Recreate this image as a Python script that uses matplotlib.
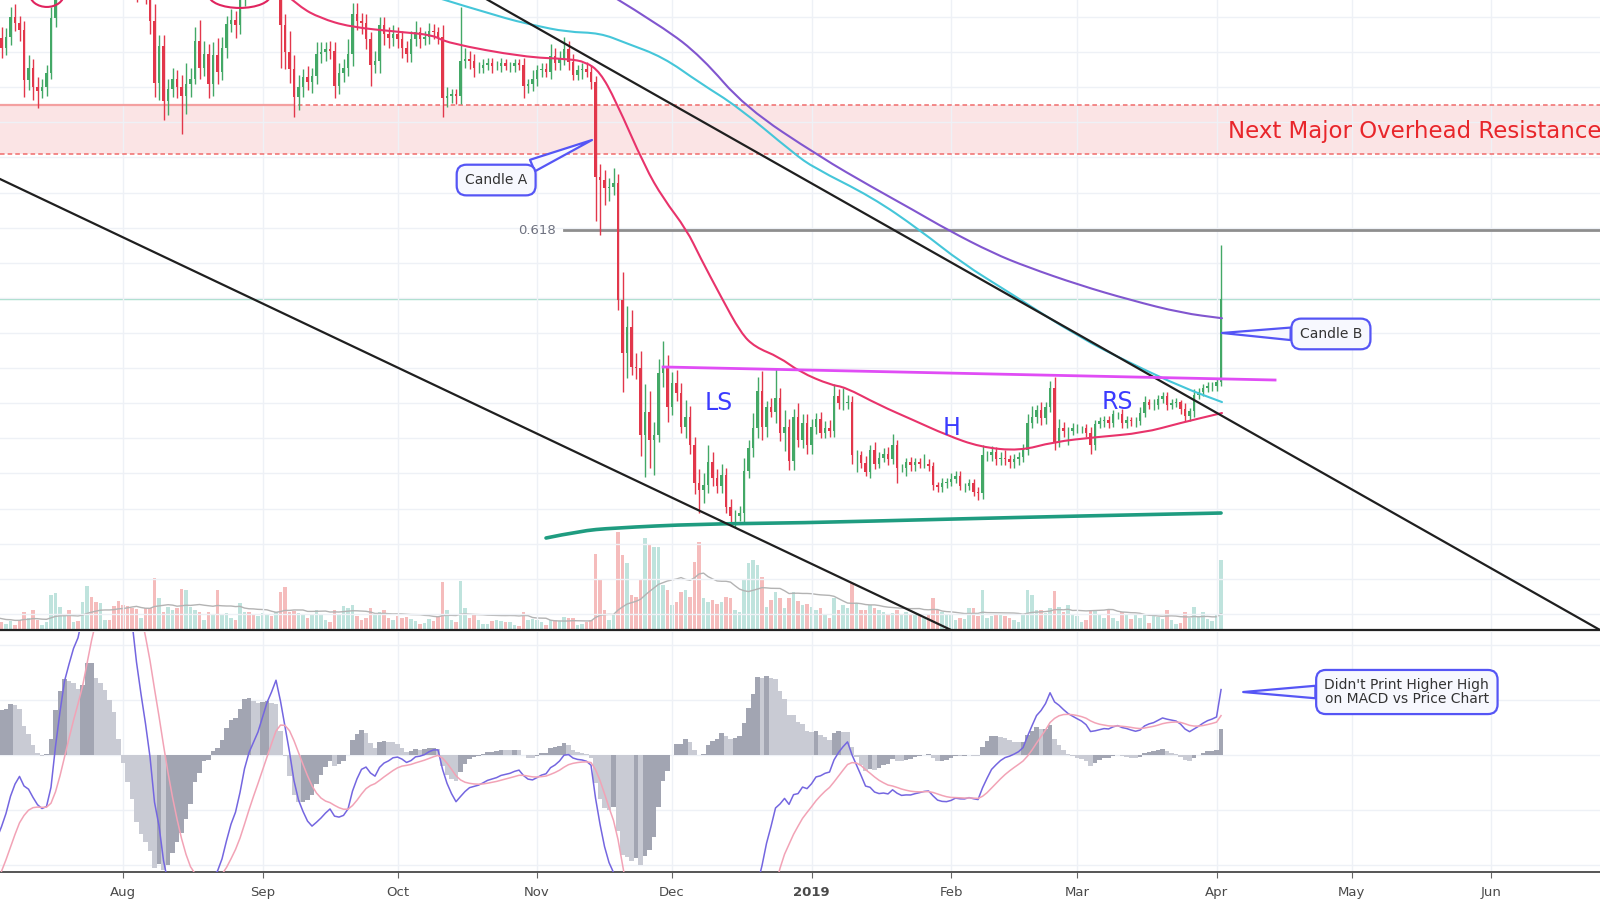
import numpy as np
import pandas as pd
import matplotlib
matplotlib.use("Agg")
import matplotlib.pyplot as plt
import matplotlib.dates as mdates
from matplotlib.patches import Ellipse, PathPatch
from matplotlib.path import Path

# ---------------- data (BTC/USD daily) ----------------
# closes; June is only there so the MACD has a warm-up
close_jun = [7530, 7640, 7720, 7500, 7630, 7650, 7680, 7620, 7490, 6770,
             6880, 6550, 6310, 6640, 6400, 6500, 6460, 6700, 6730, 6750,
             6720, 6060, 6140, 6150, 6250, 6090, 6160, 5870, 6200, 6390]
close_jul = [6350, 6610, 6510, 6600, 6530, 6610, 6750, 6710, 6660, 6300,
             6390, 6250, 6220, 6250, 6350, 6740, 7320, 7380, 7470, 7330,
             7410, 7400, 7720, 8400, 8170, 7930, 8190, 8230, 8210, 8170,
             7730]
close_aug = [7600, 7530, 7410, 7010, 7030, 6940, 6720, 6280, 6540, 6150,
             6240, 6310, 6250, 6190, 6270, 6310, 6580, 6390, 6490, 6270,
             6480, 6360, 6530, 6700, 6730, 6690, 6910, 7090, 7030, 6980,
             7030]
close_sep = [7190, 7270, 7260, 7360, 6690, 6500, 6380, 6180, 6250, 6320,
             6290, 6330, 6490, 6500, 6520, 6510, 6260, 6350, 6390, 6490,
             6770, 6720, 6710, 6590, 6410, 6440, 6690, 6630, 6600, 6630]
close_oct = [6590, 6530, 6490, 6590, 6640, 6590, 6610, 6650, 6640, 6610,
             6170, 6190, 6200, 6190, 6440, 6450, 6440, 6390, 6390, 6410,
             6420, 6400, 6400, 6420, 6400, 6400, 6420, 6410, 6260, 6270,
             6310]
close_nov = [6370, 6380, 6360, 6470, 6420, 6460, 6520, 6430, 6340, 6370,
             6380, 6360, 6290, 5610, 5590, 5530, 5540, 5570, 4735, 4360,
             4545, 4260, 4250, 3775, 3940, 3740, 3775, 4215, 4260, 3975]
close_dec = [4145, 4075, 3830, 3900, 3700, 3430, 3380, 3420, 3580, 3470,
             3410, 3490, 3260, 3200, 3200, 3220, 3520, 3680, 3820, 4090,
             3830, 3975, 3940, 4040, 3790, 3830, 3585, 3900, 3740, 3860,
             3700]
close_jan = [3830, 3890, 3790, 3820, 3800, 4050, 4000, 4000, 4010, 3630,
             3630, 3575, 3510, 3665, 3570, 3610, 3640, 3600, 3700, 3540,
             3540, 3580, 3560, 3580, 3570, 3570, 3550, 3420, 3400, 3435,
             3440]
close_feb = [3460, 3480, 3410, 3410, 3430, 3370, 3360, 3630, 3630, 3655,
             3600, 3610, 3600, 3580, 3600, 3620, 3670, 3860, 3900, 3950,
             3895, 3975, 4110, 3725, 3825, 3800, 3800, 3820]
close_mar = [3820, 3820, 3790, 3705, 3850, 3870, 3880, 3860, 3920, 3920,
             3860, 3880, 3870, 3875, 3930, 4010, 3990, 3990, 4030, 4050,
             3990, 4000, 4005, 3960, 3910, 3945, 4060, 4080, 4110, 4120,
             4120]
close_apr = [4150, 4745]

# wick lengths above / below the body, from Jul 1
up_wick = ([60, 120, 80, 70, 80, 60, 70, 90, 50, 60, 90, 60, 70, 60, 60, 80, 100, 120, 80, 100,
            70, 80, 150, 200, 180, 150, 120, 100, 80, 90, 160] +
           [100, 80, 90, 80, 90, 100, 140, 120, 80, 80, 70, 80, 60, 90, 150, 80, 100, 150, 90, 70,
            90, 120, 80, 60, 80, 60, 80, 100, 80, 60, 80] +
           [80, 80, 70, 80, 90, 80, 150, 100, 90, 60, 80, 60, 80, 70, 50, 60, 60, 70, 60, 100,
            80, 80, 60, 60, 50, 70, 60, 60, 50, 60] +
           [50, 60, 50, 60, 80, 40, 40, 60, 50, 40, 80, 60, 40, 40, 380, 80, 60, 50, 40, 40,
            40, 40, 40, 40, 30, 30, 30, 30, 50, 40, 60] +
           [40, 40, 40, 90, 60, 50, 90, 60, 60, 40, 40, 50, 50, 40, 90, 70, 60, 105, 60, 200,
            150, 120, 100, 120, 200, 150, 90, 100, 180, 80] +
           [80, 90, 70, 120, 80, 60, 100, 80, 120, 70, 60, 80, 50, 60, 40, 50, 90, 60, 110, 100,
            140, 40, 60, 200, 70, 120, 60, 60, 100, 60, 60] +
           [60, 40, 50, 50, 60, 90, 50, 110, 50, 40, 40, 30, 50, 40, 60, 40, 40, 50, 80, 40,
            30, 30, 40, 30, 30, 70, 30, 30, 20, 30, 30] +
           [40, 40, 40, 20, 30, 30, 30, 70, 30, 40, 30, 40, 60, 30, 40, 30, 40, 60, 80, 40,
            60, 30, 50, 80, 60, 40, 30, 40] +
           [30, 20, 30, 40, 30, 30, 30, 30, 30, 20, 40, 30, 20, 30, 40, 40, 20, 40, 30, 30,
            30, 30, 30, 20, 40, 20, 40, 30, 30, 30, 30] +
           [30, 380])
dn_wick = ([80, 60, 90, 60, 70, 50, 60, 60, 80, 120, 70, 90, 120, 50, 60, 40, 60, 90, 100, 60,
            90, 70, 80, 90, 120, 200, 90, 80, 70, 80, 100] +
           [70, 80, 100, 150, 80, 100, 90, 100, 120, 130, 100, 60, 80, 270, 130, 90, 40, 80, 60, 100,
            80, 90, 60, 70, 60, 90, 60, 80, 70, 90, 60] +
           [80, 90, 70, 90, 300, 120, 100, 140, 90, 70, 60, 80, 60, 70, 60, 60, 90, 60, 60, 60,
            90, 60, 80, 70, 150, 60, 90, 80, 70, 60] +
           [60, 70, 60, 60, 50, 60, 40, 50, 50, 50, 130, 60, 50, 60, 60, 50, 60, 70, 40, 40,
            40, 50, 30, 40, 30, 40, 40, 40, 90, 50, 50] +
           [50, 50, 40, 50, 50, 50, 50, 60, 40, 40, 60, 40, 50, 310, 390, 120, 90, 60, 70, 280,
            180, 60, 80, 150, 300, 200, 250, 50, 100, 110] +
           [60, 60, 40, 80, 60, 80, 160, 90, 60, 60, 50, 50, 40, 60, 80, 40, 70, 50, 60, 70,
            90, 70, 40, 80, 60, 130, 60, 60, 50, 60, 60] +
           [60, 50, 40, 40, 40, 40, 40, 50, 40, 60, 120, 40, 30, 40, 40, 30, 30, 40, 30, 110,
            30, 60, 40, 40, 30, 30, 30, 40, 30, 30, 40] +
           [30, 30, 30, 40, 30, 30, 50, 40, 40, 40, 40, 40, 40, 40, 40, 40, 40, 40, 40, 40,
            50, 40, 40, 60, 40, 40, 100, 30] +
           [30, 30, 30, 70, 40, 30, 40, 40, 30, 30, 40, 40, 30, 40, 30, 30, 30, 40, 30, 30,
            40, 30, 30, 40, 40, 40, 40, 30, 30, 30, 30] +
           [30, 30])

# volume, from Jul 1
volume = ([1.2, 1.5, 1.2, 1.0, 0.8, 0.6, 0.9, 0.5, 1.0, 1.8, 1.2, 2.0, 1.0, 0.5, 0.8, 3.5, 3.7, 2.3, 1.6, 2.0,
           0.8, 0.9, 2.8, 4.4, 3.3, 2.8, 2.7, 1.0, 1.0, 2.4, 2.9] +
          [2.5, 2.4, 2.2, 2.1, 1.2, 2.2, 2.2, 5.2, 3.2, 1.8, 2.3, 2.0, 2.2, 4.1, 4.0, 2.3, 2.0, 1.8, 1.0, 1.8,
           1.5, 4.0, 1.5, 1.7, 1.2, 1.0, 2.7, 1.8, 1.8, 1.5, 1.4] +
          [1.7, 1.5, 1.4, 1.8, 3.8, 4.3, 1.8, 1.9, 1.7, 1.5, 1.2, 1.5, 2.0, 1.6, 1.0, 0.8, 2.0, 1.6, 2.4, 2.2,
           2.5, 1.4, 1.0, 1.2, 2.2, 1.6, 1.8, 2.0, 1.2, 1.0] +
          [1.4, 1.2, 1.3, 1.1, 0.9, 0.6, 0.7, 1.1, 0.9, 1.3, 4.8, 2.0, 1.0, 0.8, 4.9, 2.2, 1.2, 1.5, 1.0, 0.6,
           0.6, 0.9, 1.0, 0.9, 0.8, 0.8, 0.5, 0.4, 1.8, 1.0, 1.1] +
          [1.0, 0.8, 0.5, 1.0, 1.0, 0.9, 1.3, 1.2, 1.2, 0.5, 0.6, 0.8, 1.0, 7.6, 5.0, 2.0, 1.0, 1.5, 9.8, 7.5,
           6.7, 3.5, 3.3, 5.0, 9.2, 8.5, 8.3, 8.3, 4.5, 4.0] +
          [2.5, 2.8, 3.8, 4.0, 3.3, 6.8, 8.8, 3.2, 2.8, 3.0, 2.6, 2.8, 3.3, 3.2, 2.0, 1.8, 5.0, 6.7, 7.0, 6.5,
           5.3, 2.3, 3.0, 3.8, 3.2, 2.2, 3.2, 3.8, 2.9, 2.5, 2.6] +
          [2.3, 2.0, 2.2, 1.5, 1.2, 3.2, 2.0, 2.5, 2.2, 4.7, 2.7, 2.0, 2.0, 2.5, 2.2, 2.0, 1.8, 1.6, 1.7, 2.0,
           1.5, 1.8, 1.6, 1.5, 1.4, 1.2, 1.5, 3.2, 2.0, 1.8, 1.5] +
          [1.5, 1.0, 1.2, 1.1, 2.2, 2.2, 1.4, 4.0, 1.2, 1.4, 1.5, 1.6, 1.4, 1.2, 1.0, 0.8, 1.5, 4.0, 3.5, 2.0,
           2.0, 1.7, 2.2, 3.9, 2.3, 1.8, 2.5, 1.6] +
          [1.4, 0.8, 1.0, 2.0, 2.0, 1.6, 1.2, 2.1, 1.2, 0.9, 1.8, 1.5, 1.1, 1.5, 1.2, 1.5, 0.7, 1.6, 1.3, 1.1,
           2.0, 1.0, 0.6, 0.7, 1.8, 1.2, 2.3, 1.4, 1.8, 1.1, 0.9] +
          [1.6, 7.0])

# moving averages (date, price)
ma_pink = [("2018-09-05 14:00", 6928), ("2018-09-09 07:00", 6821), ("2018-09-13 19:00", 6743),
           ("2018-09-20 10:00", 6679), ("2018-10-01 14:00", 6643), ("2018-10-08 22:00", 6622),
           ("2018-10-12", 6565), ("2018-10-29", 6465), ("2018-11-08", 6451), ("2018-11-11 20:00", 6430),
           ("2018-11-15", 6358), ("2018-11-18 10:00", 6159), ("2018-11-25", 5682), ("2018-11-29", 5460),
           ("2018-12-04 07:00", 5233), ("2018-12-07 05:00", 5041), ("2018-12-11 22:00", 4756),
           ("2018-12-16 07:00", 4500), ("2018-12-19 10:00", 4400), ("2018-12-24 19:00", 4329),
           ("2018-12-29 10:00", 4222), ("2019-01-05 07:00", 4129), ("2019-01-08 10:00", 4115),
           ("2019-01-16", 3987), ("2019-01-23 14:00", 3880), ("2019-01-31", 3773),
           ("2019-02-07 10:00", 3688), ("2019-02-16 07:00", 3660), ("2019-02-23 17:00", 3724),
           ("2019-03-05 10:00", 3759), ("2019-03-15 17:00", 3788), ("2019-03-23 22:00", 3859),
           ("2019-04-02 05:00", 3930)]
ma_cyan = [("2018-10-09 10:00", 6892), ("2018-10-23 19:00", 6750), ("2018-10-31", 6693),
           ("2018-11-07 17:00", 6643), ("2018-11-15", 6636), ("2018-11-20 17:00", 6565),
           ("2018-11-29", 6465), ("2018-12-07 05:00", 6280), ("2018-12-15 17:00", 6109),
           ("2018-12-27 22:00", 5782), ("2019-01-01 14:00", 5675), ("2019-01-14 10:00", 5468),
           ("2019-01-25 02:00", 5233), ("2019-02-03 10:00", 4998), ("2019-02-14 02:00", 4785),
           ("2019-03-01 10:00", 4471), ("2019-03-12 19:00", 4286), ("2019-03-24 07:00", 4115),
           ("2019-04-02 05:00", 4008)]
ma_purple = [("2018-11-17 07:00", 6907), ("2018-11-29", 6679), ("2018-12-07 14:00", 6465),
             ("2018-12-17 05:00", 6109), ("2019-01-02 22:00", 5753), ("2019-01-14 10:00", 5539),
             ("2019-01-23 14:00", 5376), ("2019-01-31 07:00", 5233), ("2019-02-10 07:00", 5069),
             ("2019-02-17 22:00", 4970), ("2019-03-01 10:00", 4842), ("2019-03-12 19:00", 4735),
             ("2019-03-24 07:00", 4642), ("2019-04-02 05:00", 4605)]
ma_green = [("2018-11-03", 3040), ("2018-11-10 14:00", 3090), ("2018-11-17 17:00", 3111),
            ("2018-12-07", 3140), ("2018-12-29", 3147), ("2019-02-01", 3175), ("2019-03-02", 3197),
            ("2019-04-02", 3218)]

# drawn lines (date, price)
upper_trend = [("2018-10-11", 7054), ("2019-06-25 05:00", 2385)]
lower_trend = [("2018-07-01", 5652), ("2019-02-01", 2385)]
neckline = [("2018-11-29", 4258), ("2019-04-14", 4165)]
resist_zone = (5774, 6123)
fib_618 = 5233

month_ticks = ["2018-08-01", "2018-09-01", "2018-10-01", "2018-11-01", "2018-12-01", "2019-01-01",
               "2019-02-01", "2019-03-01", "2019-04-01", "2019-05-01", "2019-06-01"]
month_labels = ["Aug", "Sep", "Oct", "Nov", "Dec", "2019", "Feb", "Mar", "Apr", "May", "Jun"]

# ---------------- derived series ----------------
days = pd.date_range("2018-06-01", "2019-04-02", freq="D")
close = pd.Series(close_jun + close_jul + close_aug + close_sep + close_oct + close_nov +
                  close_dec + close_jan + close_feb + close_mar + close_apr, index=days, dtype=float)

ema12 = close.ewm(span=12, adjust=False).mean()
ema26 = close.ewm(span=26, adjust=False).mean()
macd = ema12 - ema26
signal = macd.ewm(span=9, adjust=False).mean()
hist = macd - signal

c = close["2018-07-01":]
o = close.shift(1)["2018-07-01":]
x = mdates.date2num(c.index)
hi = np.maximum(o.values, c.values) + np.array(up_wick)
lo = np.minimum(o.values, c.values) - np.array(dn_wick)
rising = (c.values >= o.values)
vol = np.array(volume)
vol_ma = pd.Series(vol).rolling(20, min_periods=1).mean()


def dn(s):
    return mdates.date2num(pd.Timestamp(s))


def pts(seq):
    return [dn(p[0]) for p in seq], [p[1] for p in seq]


def smooth_line(a, seq, **kw):
    # quadratic bezier through the midpoints, read points act as control points
    xs, ys = pts(seq)
    verts = [(xs[0], ys[0])]
    codes = [Path.MOVETO]
    for i in range(1, len(xs) - 1):
        verts += [(xs[i], ys[i]), ((xs[i] + xs[i + 1]) / 2, (ys[i] + ys[i + 1]) / 2)]
        codes += [Path.CURVE3, Path.CURVE3]
    verts.append((xs[-1], ys[-1]))
    codes.append(Path.LINETO)
    a.add_patch(PathPatch(Path(verts, codes), fill=False, capstyle="round", **kw))


# ---------------- figure ----------------
fig = plt.figure(figsize=(16, 9), dpi=100)
ax = fig.add_axes([0, 0.3, 1, 0.7])
axv = ax.twinx()
ax.set_zorder(axv.get_zorder() + 1)
ax.patch.set_visible(False)
axm = fig.add_axes([0, 28 / 900, 1, 240 / 900], sharex=ax)

x0 = dn("2018-07-04 16:00")
x1 = dn("2019-06-25 05:00")
ax.set_xlim(x0, x1)
ax.set_ylim(2385, 6871)
axv.set_ylim(0, 63)
axm.set_ylim(-212.7, 223.6)

grid_c = "#eef1f6"
ticks = [dn(t) for t in month_ticks]
axm.set_xticks(ticks)
axm.set_xticklabels(month_labels)
for lab in axm.get_xticklabels():
    lab.set_color("#4a4a4a")
    lab.set_fontsize(9.5)
    if lab.get_text() == "2019":
        lab.set_fontweight("bold")
axm.tick_params(axis="x", length=4, color="#666666", pad=6)
axm.tick_params(axis="y", left=False, labelleft=False)
axm.set_yticks(np.arange(-200, 201, 100))
axm.grid(True, color=grid_c, lw=1)
axm.set_axisbelow(True)

ax.set_yticks(np.arange(2500, 6900, 250))
ax.grid(True, color=grid_c, lw=1, zorder=0)
ax.tick_params(axis="both", bottom=False, labelbottom=False, left=False, labelleft=False)
axv.tick_params(right=False, labelright=False)
axv.set_yticks([])

for a in (ax, axv, axm):
    for s in ("top", "left", "right"):
        a.spines[s].set_visible(False)
axv.spines["bottom"].set_visible(False)
ax.spines["bottom"].set_color("#222222")
ax.spines["bottom"].set_linewidth(1.6)
axm.spines["bottom"].set_color("#555555")
axm.spines["bottom"].set_linewidth(1.4)

# volume
vcol = np.where(rising, "#bfe3dd", "#f5bcbc")
axv.bar(x, vol, width=0.75, color=vcol, linewidth=0)
axv.plot(x, vol_ma, color="#b3b3b3", lw=1)

# resistance zone
ax.axhspan(resist_zone[0], resist_zone[1], color="#fbe4e5", zorder=1, lw=0)
ax.axhline(resist_zone[0], color="#f06b6b", lw=1.1, ls=(0, (3, 2)), zorder=2)
ax.axhline(resist_zone[1], color="#f06b6b", lw=1.1, ls=(0, (3, 2)), zorder=2)
ax.plot([x0, dn("2018-09-08")], [resist_zone[1]] * 2, color="#f4a0a0", lw=1.6, zorder=2)

# last price line
ax.axhline(c.iloc[-1], color="#a3dcc8", lw=1, zorder=1)

# fib level
ax.plot([dn("2018-11-07"), x1], [fib_618] * 2, color="#8e8e8e", lw=2, zorder=2)
ax.text(dn("2018-11-05 05:00"), fib_618, "0.618", ha="right", va="center",
        color="#6f7280", fontsize=9.5)

# candles
ccol = np.where(rising, "#43a866", "#e2374b")
ax.vlines(x, lo, hi, colors=ccol, lw=1, zorder=3)
ax.bar(x, c.values - o.values, bottom=o.values, width=0.62, color=ccol, linewidth=0, zorder=4)

# moving averages and drawn lines
for seq, col, lw in ((ma_pink, "#e8336b", 1.5), (ma_cyan, "#45c6d9", 1.5),
                     (ma_purple, "#8156cf", 1.5), (ma_green, "#1f9c80", 2.6)):
    smooth_line(ax, seq, ec=col, lw=lw, zorder=5)
for seq in (upper_trend, lower_trend):
    dx, dy = pts(seq)
    ax.plot(dx, dy, color="#1f1f1f", lw=1.6, zorder=6)
dx, dy = pts(neckline)
ax.plot(dx, dy, color="#e04df5", lw=2, zorder=6)

# circles at the top
for cd, cp, w in (("2018-07-15 02:00", 6914, 7.6), ("2018-08-26 22:00", 6907, 13.8)):
    ax.add_patch(Ellipse((dn(cd), cp), w, 185, fill=False, ec="#e0245e", lw=1.5, zorder=6))

# labels
ax.text(dn("2019-04-03 14:00"), 5938, "Next Major Overhead Resistance",
        color="#e8262b", fontsize=16.5, va="center", ha="left", zorder=7)
for t, d, p in (("LS", "2018-12-11 10:00", 4001), ("H", "2019-02-01 05:00", 3823),
                ("RS", "2019-03-09 22:00", 4009)):
    ax.text(dn(d), p, t, color="#3b3bff", fontsize=17, ha="center", va="center", zorder=7)


def callout(a, text, tip, center, relpos):
    a.annotate(text, xy=tip, xytext=center, ha="center", va="center", fontsize=10,
               color="#333333", linespacing=0.95, zorder=8,
               bbox=dict(boxstyle="round,pad=0.6,rounding_size=0.7", fc="#f7f8fe",
                         ec="#5555f5", lw=1.6),
               arrowprops=dict(arrowstyle="wedge,tail_width=0.9,shrink_factor=0.5",
                               fc="#f7f8fe", ec="#5555f5", lw=1.6, relpos=relpos,
                               shrinkA=0, shrinkB=0))


callout(ax, "Candle A", (dn("2018-11-13 05:00"), 5874), (dn("2018-10-22 22:00"), 5589), (0.75, 0.9))
callout(ax, "Candle B", (dn("2019-04-02 05:00"), 4500), (dn("2019-04-26 10:00"), 4493), (0.05, 0.5))

# MACD pane
hm = hist["2018-07-01":]
xm = mdates.date2num(hm.index)
hcol = np.where(hm.diff().fillna(0).values >= 0, "#a2a5b2", "#c9cbd4")
axm.bar(xm, hm.values, width=1.0, color=hcol, linewidth=0, zorder=2)
axm.plot(xm, macd["2018-07-01":].values, color="#7466e0", lw=1.1, zorder=3)
axm.plot(xm, signal["2018-07-01":].values, color="#f2a3b6", lw=1.1, zorder=3)
callout(axm, "Didn't Print Higher High\non MACD vs Price Chart", (dn("2019-04-06 22:00"), 114.5),
        (dn("2019-05-13 07:00"), 114.5), (0.03, 0.5))

fig.savefig("out.png", dpi=100)
